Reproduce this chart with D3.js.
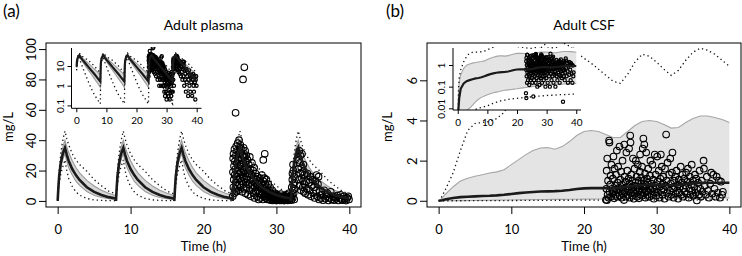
<!DOCTYPE html>
<html>
<head>
<meta charset="utf-8">
<script src="https://cdn.jsdelivr.net/npm/d3@7"></script>
<style>
body { margin: 0; background: #fff; }
svg { display: block; font-family: Lato, 'Liberation Sans', sans-serif; }
</style>
</head>
<body>
<div id="fig"></div>
<script>
// ---- plasma: one dosing interval, repeated at every dose ----
const doseTimes = [0, 8, 16, 24, 32]
const cycleHours = [0, 0.1, 0.2, 0.4, 0.6, 0.8, 1, 1.25, 1.5, 2, 2.5, 3, 4, 5, 6, 7, 7.99]
const plasmaMedian = [0, 9, 16, 24, 29, 32.5, 35, 30.5, 26.5, 21, 17, 13.8, 9, 5.9, 3.9, 2.5, 1.6]
const plasmaPiLow = [0, 8, 14, 21, 25.5, 28.5, 31, 26, 22, 17, 13, 10.2, 6.2, 3.8, 2.3, 1.4, 0.8]
const plasmaPiHigh = [0, 10, 18, 27, 33, 37, 40, 35.5, 32, 26.5, 22, 18.5, 13.5, 9.8, 7, 5, 3.5]
const plasmaDotLow = [0, 6, 11, 17, 21, 24, 27, 20, 15, 9.5, 6, 3.8, 1.6, 0.7, 0.35, 0.2, 0.12]
const plasmaDotHigh = [0, 11, 20, 30, 37, 42, 46, 41, 37, 31, 27, 24, 19.5, 14, 10, 6.5, 4.5]

// observed plasma concentrations [time, mg/L]
const plasmaObs = [
  [24.01, 3], [24.04, 19], [24.07, 28], [24.1, 9], [24.12, 31], [24.15, 14], [24.18, 23], [24.21, 5],
  [24.24, 34], [24.27, 17], [24.3, 26], [24.33, 8], [24.36, 21], [24.4, 58], [24.42, 12], [24.45, 30],
  [24.48, 36], [24.51, 6], [24.54, 16], [24.57, 25], [24.6, 33], [24.63, 10], [24.66, 20], [24.69, 38],
  [24.72, 14], [24.75, 27], [24.78, 7], [24.81, 31], [24.84, 18], [24.87, 40], [24.9, 23], [24.93, 11],
  [24.96, 35], [24.99, 29], [25.02, 15], [25.05, 37], [25.08, 9], [25.11, 24], [25.14, 32], [25.17, 19],
  [25.2, 13], [25.23, 34], [25.26, 27], [25.29, 6], [25.32, 21], [25.35, 30], [25.38, 16], [25.42, 80],
  [25.44, 11], [25.47, 25], [25.5, 35], [25.53, 8], [25.56, 19], [25.6, 88], [25.62, 29], [25.65, 14],
  [25.68, 22], [25.71, 33], [25.74, 5], [25.77, 18], [25.8, 26], [25.84, 12], [25.88, 30], [25.92, 9],
  [25.96, 21], [26.0, 16], [26.05, 27], [26.1, 4], [26.15, 11], [26.2, 24], [26.25, 18], [26.3, 7],
  [26.35, 29], [26.4, 14], [26.45, 21], [26.5, 3], [26.55, 10], [26.6, 17], [26.65, 25], [26.7, 8],
  [26.75, 13], [26.8, 20], [26.85, 5], [26.9, 15], [26.95, 22], [27.0, 2], [27.05, 9], [27.1, 12],
  [27.15, 18], [27.2, 6], [27.25, 14], [27.3, 10], [27.35, 3], [27.4, 16], [27.45, 7], [27.5, 11],
  [27.55, 1], [27.6, 13], [27.65, 5], [27.7, 9], [27.75, 15], [27.8, 2], [27.85, 8], [27.9, 12],
  [27.95, 4], [28.0, 17], [28.05, 6], [28.1, 10], [28.15, 1], [28.2, 27], [28.22, 13], [28.27, 3],
  [28.32, 8], [28.36, 15], [28.4, 31], [28.43, 5], [28.48, 11], [28.53, 2], [28.58, 7], [28.63, 14],
  [28.68, 4], [28.73, 9], [28.78, 1], [28.83, 6], [28.88, 11], [28.93, 3], [28.98, 7],
  [29.03, 1], [29.08, 4], [29.13, 9], [29.18, 2], [29.23, 0.5], [29.28, 5], [29.33, 3], [29.38, 1.5],
  [29.43, 7], [29.48, 0.3], [29.53, 2.5], [29.58, 4], [29.63, 1], [29.68, 3], [29.73, 0.5], [29.78, 2],
  [29.83, 5], [29.88, 1.2], [29.93, 3.5], [29.98, 0.2], [30.05, 2], [30.12, 4], [30.18, 0.8], [30.25, 1.5],
  [30.32, 3], [30.4, 0.4], [30.47, 2.2], [30.54, 1], [30.6, 4.5], [30.67, 0.3], [30.74, 1.8], [30.8, 3],
  [30.87, 0.6], [30.94, 2.5], [31.0, 1.2], [31.07, 0.2], [31.14, 3.5], [31.2, 1.5], [31.27, 0.5],
  [31.34, 2.2], [31.4, 4], [31.47, 1], [31.54, 0.3], [31.6, 2.8], [31.67, 5], [31.74, 1.5], [31.8, 0.5],
  [31.87, 3], [31.93, 2],
  [32.05, 0.5], [32.1, 9], [32.14, 4], [32.18, 14], [32.2, 18], [32.23, 2], [32.26, 7], [32.28, 24],
  [32.3, 11], [32.33, 20], [32.36, 5], [32.4, 16], [32.44, 1], [32.48, 12], [32.52, 8],
  [33.0, 21], [33.05, 14], [33.1, 27], [33.15, 33], [33.18, 10], [33.22, 25], [33.27, 18], [33.3, 30],
  [33.35, 7], [33.4, 22], [33.45, 15], [33.5, 31], [33.55, 19], [33.6, 9], [33.65, 13], [33.7, 24],
  [33.75, 6], [33.8, 17], [33.85, 11], [33.95, 5], [34.05, 13], [34.15, 8], [34.25, 18], [34.35, 4],
  [34.45, 12], [34.55, 7], [34.65, 16], [34.75, 3], [34.85, 10], [34.95, 14], [35.05, 5], [35.15, 9],
  [35.25, 2], [35.35, 13], [35.45, 7], [35.5, 17], [35.6, 3], [35.7, 11], [35.78, 16], [35.85, 1],
  [35.95, 6], [36.1, 2], [36.25, 4], [36.4, 0.5], [36.55, 7], [36.7, 1.5], [36.85, 3], [37.0, 5],
  [37.15, 0.3], [37.3, 2], [37.45, 6], [37.6, 1], [37.75, 3], [37.9, 0.5], [38.05, 2.5], [38.2, 1.5],
  [38.35, 3.5], [38.5, 0.3], [38.65, 2], [38.8, 4], [38.95, 1], [39.1, 0.5], [39.25, 3], [39.4, 1.5],
  [39.55, 0.2], [39.7, 2], [39.85, 3], [39.95, 1]
]

// ---- CSF ----
const csfHours = [0, 0.25, 0.5, 1, 2, 3, 4, 5, 6, 7, 8, 9, 10, 11, 12, 13, 14, 15, 16, 17, 18, 19, 20,
  21, 22, 23, 24, 25, 26, 27, 28, 29, 30, 31, 32, 33, 34, 35, 36, 37, 38, 39, 40]
const csfMedian = [0, 0.01, 0.03, 0.08, 0.14, 0.18, 0.2, 0.22, 0.24, 0.25, 0.27, 0.3, 0.34, 0.38, 0.41,
  0.44, 0.46, 0.47, 0.48, 0.5, 0.54, 0.59, 0.62, 0.63, 0.63, 0.63, 0.63, 0.65, 0.7, 0.75, 0.78, 0.79,
  0.79, 0.78, 0.77, 0.79, 0.83, 0.87, 0.89, 0.9, 0.9, 0.9, 0.9]
const csfPiLow = [0, 0.0005, 0.001, 0.002, 0.004, 0.008, 0.01, 0.014, 0.02, 0.026, 0.032, 0.037, 0.042,
  0.047, 0.052, 0.056, 0.06, 0.065, 0.068, 0.071, 0.074, 0.077, 0.08, 0.084, 0.088, 0.092, 0.096, 0.1,
  0.104, 0.108, 0.112, 0.116, 0.12, 0.122, 0.124, 0.126, 0.128, 0.13, 0.132, 0.134, 0.136, 0.138, 0.14]
const csfPiHigh = [0, 0.05, 0.15, 0.35, 0.7, 0.98, 1.12, 1.22, 1.3, 1.38, 1.44, 1.55, 1.8, 2.05, 2.3, 2.5,
  2.63, 2.65, 2.57, 2.7, 2.95, 3.25, 3.45, 3.5, 3.45, 3.3, 3.15, 3.15, 3.45, 3.75, 3.95, 4.0, 3.95, 3.8,
  3.62, 3.65, 3.9, 4.1, 4.22, 4.22, 4.15, 4.05, 3.9]
const csfDotLow = [0, 0.0001, 0.0002, 0.0005, 0.001, 0.002, 0.004, 0.008, 0.009, 0.01, 0.011, 0.012,
  0.013, 0.015, 0.017, 0.019, 0.021, 0.023, 0.024, 0.026, 0.027, 0.028, 0.029, 0.03, 0.031, 0.032,
  0.033, 0.034, 0.035, 0.036, 0.037, 0.038, 0.039, 0.04, 0.04, 0.041, 0.042, 0.043, 0.043, 0.044,
  0.044, 0.045, 0.045]
const csfDotHigh = [0, 0.08, 0.25, 0.6, 1.4, 2.5, 3.5, 3.85, 3.9, 3.95, 4.1, 4.4, 5.0, 5.8, 6.6, 7.2,
  7.6, 7.9, 8.0, 7.9, 7.7, 7.4, 7.1, 6.85, 6.55, 6.25, 5.95, 5.85, 6.3, 6.9, 7.3, 7.2, 6.9, 6.55, 6.25,
  6.5, 7.0, 7.4, 7.6, 7.5, 7.3, 7.0, 6.7]

// observed CSF concentrations [time, mg/L]
const csfObs = [
  [23.02, 0.05], [23.08, 0.6], [23.12, 1.5], [23.15, 0.03], [23.2, 2.1], [23.25, 0.3], [23.31, 1.0],
  [23.38, 0.15], [23.45, 3.0], [23.5, 2.9], [23.52, 0.45], [23.6, 0.8], [23.66, 1.25], [23.71, 0.2],
  [23.78, 1.8], [23.85, 0.6], [23.9, 0.35], [23.97, 1.1], [24.05, 2.2], [24.1, 0.5], [24.14, 0.12],
  [24.2, 1.6], [24.28, 0.75], [24.33, 0.3], [24.4, 1.3], [24.46, 0.55], [24.52, 2.5], [24.57, 0.2],
  [24.63, 0.9], [24.7, 1.7], [24.76, 0.4], [24.82, 0.65], [24.88, 2.7], [24.93, 0.25], [25.0, 1.05],
  [25.06, 0.5], [25.12, 1.45], [25.18, 0.15], [25.25, 0.8], [25.3, 2.0], [25.36, 0.35], [25.42, 0.6],
  [25.5, 0.035], [25.55, 2.8], [25.58, 1.2], [25.64, 0.45], [25.7, 0.95], [25.77, 0.2], [25.83, 2.4],
  [25.9, 0.7], [25.95, 1.5], [26.02, 0.3], [26.07, 0.55], [26.13, 1.1], [26.2, 2.6], [26.25, 0.15],
  [26.3, 0.85], [26.36, 3.25], [26.4, 2.9], [26.45, 0.4], [26.5, 1.3], [26.56, 0.65], [26.62, 0.25],
  [26.68, 1.0], [26.74, 2.1], [26.8, 0.5], [26.85, 0.1], [26.9, 0.75], [26.96, 1.6], [27.02, 0.35],
  [27.08, 0.9], [27.13, 2.0], [27.18, 0.55], [27.24, 1.2], [27.3, 0.2], [27.35, 0.7], [27.4, 1.8],
  [27.46, 0.45], [27.52, 1.0], [27.57, 0.12], [27.62, 0.6], [27.68, 1.45], [27.72, 2.3], [27.78, 0.3],
  [27.83, 0.85], [27.88, 1.15], [27.93, 0.5], [27.98, 1.7], [28.03, 0.25], [28.08, 2.6], [28.12, 0.7],
  [28.17, 3.1], [28.21, 1.0], [28.26, 0.4], [28.3, 2.8], [28.35, 0.6], [28.4, 1.35], [28.45, 0.15],
  [28.5, 0.8], [28.56, 2.4], [28.6, 0.5], [28.66, 1.1], [28.72, 0.3], [28.78, 0.9], [28.84, 1.6],
  [28.9, 0.45], [28.96, 0.7], [29.02, 0.2], [29.08, 1.25], [29.14, 2.0], [29.2, 0.55], [29.27, 0.85],
  [29.33, 0.3], [29.4, 1.8], [29.46, 0.65], [29.52, 1.05], [29.6, 0.1], [29.66, 0.45], [29.73, 2.3],
  [29.8, 0.75], [29.86, 1.3], [29.93, 0.25], [30.0, 0.6], [30.07, 2.2], [30.13, 0.95], [30.2, 0.4],
  [30.28, 1.5], [30.35, 0.15], [30.42, 0.7], [30.5, 1.1], [30.57, 2.3], [30.63, 0.5], [30.7, 1.7],
  [30.78, 0.3], [30.85, 0.85], [30.92, 1.2], [31.0, 0.55], [31.08, 0.1], [31.15, 1.6], [31.22, 0.75],
  [31.3, 3.3], [31.36, 1.0], [31.42, 0.4], [31.5, 1.9], [31.57, 0.65], [31.64, 0.2], [31.72, 1.3],
  [31.8, 0.5], [31.87, 2.1], [31.94, 0.85], [32.02, 0.3], [32.1, 1.4], [32.17, 2.4], [32.25, 0.6],
  [32.32, 0.15], [32.4, 1.0], [32.48, 0.7], [32.56, 1.2], [32.64, 0.35], [32.72, 1.5], [32.8, 0.5],
  [32.88, 0.8], [32.96, 0.1], [33.05, 1.05], [33.13, 0.4], [33.21, 0.7], [33.3, 1.7], [33.38, 0.3],
  [33.46, 0.9], [33.55, 1.3], [33.63, 0.2], [33.71, 0.6], [33.8, 1.1], [33.88, 0.45], [33.96, 0.75],
  [34.05, 1.4], [34.14, 0.35], [34.22, 0.95], [34.3, 1.6], [34.4, 0.15], [34.48, 0.6], [34.56, 1.2],
  [34.65, 0.3], [34.74, 0.8], [34.82, 1.8], [34.9, 0.5], [35.0, 1.0], [35.08, 0.25], [35.17, 0.7],
  [35.26, 1.3], [35.35, 0.4], [35.44, 1.1], [35.53, 0.02], [35.6, 0.55], [35.7, 0.9], [35.8, 0.3],
  [35.9, 1.5], [36.0, 0.6], [36.1, 0.2], [36.2, 1.0], [36.3, 0.45], [36.45, 2.0], [36.5, 1.6],
  [36.6, 0.75], [36.75, 0.3], [36.9, 1.2], [37.05, 0.5], [37.2, 0.15], [37.35, 0.85], [37.5, 1.4],
  [37.65, 0.35], [37.8, 1.3], [37.95, 0.6], [38.1, 0.2], [38.25, 1.2], [38.4, 0.4], [38.55, 1.0],
  [38.7, 0.15], [38.85, 0.95], [39.0, 0.3], [39.1, 0.45]
]

const xTicks = [0, 10, 20, 30, 40]

const cycleSeries = arr => doseTimes.flatMap(d => cycleHours.map((h, i) => [d + h, arr[i]]))
const hourSeries = arr => csfHours.map((h, i) => [h, arr[i]])

const plasma = {
  median: cycleSeries(plasmaMedian), lo: cycleSeries(plasmaPiLow), hi: cycleSeries(plasmaPiHigh),
  dlo: cycleSeries(plasmaDotLow), dhi: cycleSeries(plasmaDotHigh), obs: plasmaObs
}
const csf = {
  median: hourSeries(csfMedian), lo: hourSeries(csfPiLow), hi: hourSeries(csfPiHigh),
  dlo: hourSeries(csfDotLow), dhi: hourSeries(csfDotHigh), obs: csfObs
}

const svg = d3.select('#fig').append('svg').attr('width', 742).attr('height', 256)

let clipId = 0
function layer(x0, x1, y0, y1) {
  const id = 'clip' + (clipId++)
  svg.append('clipPath').attr('id', id).append('rect')
    .attr('x', x0).attr('y', y0).attr('width', x1 - x0).attr('height', y1 - y0)
  return svg.append('g').attr('clip-path', `url(#${id})`)
}

function drawCurves(g, d, x, y, st, keep) {
  const f = s => s.filter(p => keep(p[1]))
  const line = d3.line().x(p => x(p[0])).y(p => y(p[1]))
  const band = d.lo.map((p, i) => [p[0], p[1], d.hi[i][1]]).filter(p => keep(p[1]) && keep(p[2]))
  g.append('path').attr('d', d3.area().x(p => x(p[0])).y0(p => y(p[1])).y1(p => y(p[2]))(band))
    .attr('fill', st.bandFill)
  ;[f(d.lo), f(d.hi)].forEach(s => g.append('path').attr('d', line(s))
    .attr('fill', 'none').attr('stroke', st.bandStroke).attr('stroke-width', 1.1))
  ;[f(d.dlo), f(d.dhi)].forEach(s => g.append('path').attr('d', line(s))
    .attr('fill', 'none').attr('stroke', '#111').attr('stroke-width', 1.3)
    .attr('stroke-dasharray', '1.3,3'))
  g.selectAll(null).data(f(d.obs)).enter().append('circle')
    .attr('cx', p => x(p[0])).attr('cy', p => y(p[1])).attr('r', st.r)
    .attr('fill', 'none').attr('stroke', '#000').attr('stroke-width', st.sw)
  g.append('path').attr('d', line(f(d.median)))
    .attr('fill', 'none').attr('stroke', '#1a1a1a').attr('stroke-width', st.mw)
}

function xAxis(y0, scale, size, pad, fs) {
  const ax = svg.append('g').attr('transform', `translate(0,${y0})`)
    .call(d3.axisBottom(scale).tickValues(xTicks).tickSize(size).tickPadding(pad))
    .attr('font-size', null).attr('font-family', null)
  ax.select('.domain').remove()
  ax.selectAll('text').style('font-size', fs + 'px').attr('fill', '#000')
}

function yAxis(x0, scale, ticks, labels, size, off, fs) {
  const ax = svg.append('g').attr('transform', `translate(${x0},0)`)
    .call(d3.axisLeft(scale).tickValues(ticks).tickSize(size).tickFormat((d, i) => labels[i]))
    .attr('font-size', null).attr('font-family', null)
  ax.select('.domain').remove()
  ax.selectAll('text').attr('x', null).attr('dy', null).attr('text-anchor', 'middle')
    .attr('transform', `translate(${-off},0) rotate(-90)`)
    .style('font-size', fs + 'px').attr('fill', '#000')
}

function label(txt, x, y, fs, rot) {
  svg.append('text').attr('x', x).attr('y', y).attr('text-anchor', 'middle')
    .attr('transform', rot ? `rotate(-90,${x},${y})` : null)
    .style('font-size', fs + 'px').text(txt)
}

function panel(p) {
  const b = p.box
  const x = d3.scaleLinear().domain([-1.6, 41.6]).range([b[0], b[1]])
  const y = d3.scaleLinear().domain(p.yDomain).range([b[3], b[2]])
  drawCurves(layer(b[0], b[1], b[2], b[3]), p.data, x, y,
    { bandFill: p.bandFill, bandStroke: p.bandStroke, r: 3.3, sw: 1.1, mw: 2.6 }, v => true)
  svg.append('rect').attr('x', b[0]).attr('y', b[2]).attr('width', b[1] - b[0])
    .attr('height', b[3] - b[2]).attr('fill', 'none').attr('stroke', '#000').attr('stroke-width', 1)
  xAxis(b[3], x, 7, 11, 13)
  yAxis(b[0], y, p.yTicks, p.yTicks.map(String), 7, 10.5, 13)

  // inset on log scale
  const ib = p.inBox
  const ix = d3.scaleLinear().domain([-1.6, 41.6]).range([ib[0], ib[1]])
  const iy = d3.scaleLog().domain(p.inDomain).range(p.inRange)
  svg.append('rect').attr('x', ib[0]).attr('y', ib[2]).attr('width', ib[1] - ib[0])
    .attr('height', ib[3] - ib[2]).attr('fill', '#fff')
  const src = p.data
  const inData = p.clampLog
    ? Object.fromEntries(Object.entries(src).map(([k, s]) => [k, s.map(q => [q[0], Math.max(q[1], 1e-5)])]))
    : src
  drawCurves(layer(ib[0], ib[1], ib[2] - 1, ib[3]), inData, ix, iy,
    { bandFill: p.bandFill, bandStroke: p.bandStroke, r: 1.6, sw: 1.2, mw: 2.2 }, v => v > 0)
  svg.append('path').attr('d', `M${ib[0]},${ib[2]}V${ib[3]}H${ib[1]}`)
    .attr('fill', 'none').attr('stroke', '#000').attr('stroke-width', 1)
  xAxis(ib[3], ix, 4, 4.5, 10)
  yAxis(ib[0], iy, p.inTicks, p.inTicks.map(String), 4, 8, 10)

  label(p.title, (x(0) + x(40)) / 2, 30, 14)
  label('Time (h)', (x(0) + x(40)) / 2, 251, 13)
  label('mg/L', p.yLabelX, (b[2] + b[3]) / 2 + 2, 13, true)
  svg.append('text').attr('x', p.tag[0]).attr('y', p.tag[1]).style('font-size', '17px').text(p.tagText)
}

panel({
  data: plasma, box: [46, 361, 43, 207], yDomain: [-4, 104], yTicks: [0, 20, 40, 60, 80, 100],
  inBox: [71.5, 201.5, 48, 108.3], inDomain: [0.1, 10], inRange: [105.4, 66], inTicks: [0.1, 1, 10],
  bandFill: '#d6d6d6', bandStroke: '#9a9a9a', clampLog: false,
  title: 'Adult plasma', yLabelX: 13, tag: [3, 17], tagText: '(a)'
})

panel({
  data: csf, box: [427, 741, 43, 207], yDomain: [-0.31, 7.86], yTicks: [0, 2, 4, 6],
  inBox: [453, 581, 48, 110], inDomain: [0.01, 1], inRange: [108.3, 65], inTicks: [0.01, 0.1, 1],
  bandFill: '#e4e4e4', bandStroke: '#a6a6a6', clampLog: true,
  title: 'Adult CSF', yLabelX: 392, tag: [386, 17], tagText: '(b)'
})
</script>
</body>
</html>
